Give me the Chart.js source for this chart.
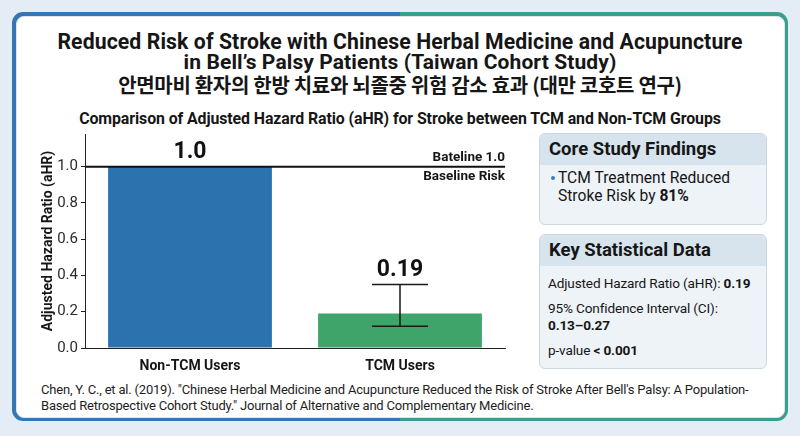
<!DOCTYPE html>
<html>
<head>
<meta charset="utf-8">
<script src="https://cdn.jsdelivr.net/npm/chart.js@4.4.1/dist/chart.umd.min.js"></script>
<style>
  html, body { margin: 0; padding: 0; }
  body {
    width: 800px; height: 436px; overflow: hidden;
    background: #e4edf6;
    font-family: Roboto, "Noto Sans", sans-serif;
    color: #161616;
    position: relative;
  }
  #frame {
    position: absolute; left: 12px; top: 12px; width: 776px; height: 409px;
    border-radius: 11px;
    background: linear-gradient(to right, #3676b2 50%, #3a9e8f 50%);
    box-sizing: border-box; padding: 3.5px;
  }
  #card {
    width: 100%; height: 100%; background: #fff; border-radius: 8px;
    box-sizing: border-box; border: 1.5px solid #dfe5eb;
  }
  .title {
    position: absolute; left: 0; width: 800px; text-align: center;
    font-weight: 700; white-space: nowrap; line-height: 1.2;
  }
  #t1 { top: 29px; font-size: 21.2px; letter-spacing: 0.1px; }
  #t2 { top: 50px; font-size: 21px; letter-spacing: 0.1px; }
  #t3 { top: 73px; font-size: 20px; font-family: "Noto Sans CJK KR", sans-serif; letter-spacing: -0.3px; }
  #t4 { top: 108.5px; font-size: 15.9px; letter-spacing: -0.1px; }
  #chartBox { position: absolute; left: 20px; top: 122px; width: 500px; height: 251px; }
  .panel {
    position: absolute; left: 539px; width: 228px;
    background: #eef3f8; border: 1px solid #c9d7e3; border-radius: 6px;
    box-sizing: border-box; overflow: hidden;
  }
  .panel h3 {
    margin: 0; background: #d7e4ee; font-size: 18.5px; font-weight: 700;
    padding: 0 9px; line-height: 31px; height: 31px; color: #161616;
  }
  #p1 { top: 133px; height: 92px; }
  #p2 { top: 234px; height: 135px; }
  .bullet { font-size: 15.6px; line-height: 18px; padding: 4px 10px 0 10px; position: relative; }
  .bullet .dot { position: absolute; left: 11px; top: 11px; width: 4px; height: 4px; border-radius: 2px; background: #3a7cc0; }
  .bullet .txt { padding-left: 8px; }
  .stat { font-size: 13.6px; line-height: 17px; padding: 0 8px; white-space: nowrap; letter-spacing: -0.15px; }
  #citation {
    position: absolute; left: 41px; top: 382px; width: 730px;
    font-size: 13px; line-height: 16px; color: #1e1e1e; letter-spacing: -0.2px;
  }
</style>
</head>
<body>
<div id="frame"><div id="card"></div></div>
<div class="title" id="t1">Reduced Risk of Stroke with Chinese Herbal Medicine and Acupuncture</div>
<div class="title" id="t2">in Bell’s Palsy Patients (Taiwan Cohort Study)</div>
<div class="title" id="t3">안면마비 환자의 한방 치료와 뇌졸중 위험 감소 효과 (대만 코호트 연구)</div>
<div class="title" id="t4">Comparison of Adjusted Hazard Ratio (aHR) for Stroke between TCM and Non-TCM Groups</div>

<div id="chartBox"><canvas id="chart" width="500" height="251"></canvas></div>

<div class="panel" id="p1">
  <h3>Core Study Findings</h3>
  <div class="bullet"><span class="dot"></span><div class="txt">TCM Treatment Reduced<br>Stroke Risk by <b>81%</b></div></div>
</div>
<div class="panel" id="p2">
  <h3>Key Statistical Data</h3>
  <div class="stat" style="margin-top:9px">Adjusted Hazard Ratio (aHR): <b>0.19</b></div>
  <div class="stat" style="margin-top:8px">95% Confidence Interval (CI):<br><b>0.13–0.27</b></div>
  <div class="stat" style="margin-top:8px">p-value <b>&lt; 0.001</b></div>
</div>

<div id="citation">Chen, Y. C., et al. (2019). "Chinese Herbal Medicine and Acupuncture Reduced the Risk of Stroke After Bell's Palsy: A Population-Based Retrospective Cohort Study." Journal of Alternative and Complementary Medicine.</div>

<script>
// chart data
const categories = ['Non-TCM Users', 'TCM Users'];
const hazardRatios = [1.0, 0.19];
const valueLabels = ['1.0', '0.19'];
const errorLow = [null, 0.12];
const errorHigh = [null, 0.35];
const barColors = ['#2b73ae', '#3ea46a'];
const baselineValue = 1.0;
const baselineTopLabel = 'Bateline 1.0';
const baselineBottomLabel = 'Baseline Risk';

const overlays = {
  id: 'overlays',
  afterDatasetsDraw(chart) {
    const ctx = chart.ctx;
    const x = chart.scales.x;
    const y = chart.scales.y;
    const meta = chart.getDatasetMeta(0);
    ctx.save();

    // baseline
    const by = y.getPixelForValue(baselineValue);
    ctx.strokeStyle = '#111';
    ctx.lineWidth = 2;
    ctx.beginPath();
    ctx.moveTo(x.left, by);
    ctx.lineTo(x.right, by);
    ctx.stroke();
    ctx.fillStyle = '#161616';
    ctx.font = 'bold 13.5px Roboto';
    ctx.textAlign = 'right';
    ctx.textBaseline = 'middle';
    ctx.fillText(baselineTopLabel, x.right, by - 9.5);
    ctx.fillText(baselineBottomLabel, x.right, by + 10);

    // error bars
    ctx.strokeStyle = '#1a1a1a';
    ctx.lineWidth = 1.5;
    meta.data.forEach((bar, i) => {
      if (errorLow[i] == null) return;
      const lo = y.getPixelForValue(errorLow[i]);
      const hi = y.getPixelForValue(errorHigh[i]);
      const cap = 28;
      ctx.beginPath();
      ctx.moveTo(bar.x, lo); ctx.lineTo(bar.x, hi);
      ctx.moveTo(bar.x - cap, hi); ctx.lineTo(bar.x + cap, hi);
      ctx.moveTo(bar.x - cap, lo); ctx.lineTo(bar.x + cap, lo);
      ctx.stroke();
    });

    // value labels
    ctx.fillStyle = '#111';
    ctx.font = 'bold 23px Roboto';
    ctx.textAlign = 'center';
    ctx.textBaseline = 'bottom';
    meta.data.forEach((bar, i) => {
      const top = errorHigh[i] != null ? y.getPixelForValue(errorHigh[i]) : bar.y;
      ctx.fillText(valueLabels[i], bar.x, top - 3);
    });
    ctx.restore();
  }
};

new Chart(document.getElementById('chart'), {
  type: 'bar',
  data: {
    labels: categories,
    datasets: [{
      data: hazardRatios,
      backgroundColor: barColors,
      borderWidth: 0,
      barPercentage: 0.78,
      categoryPercentage: 1.0
    }]
  },
  options: {
    responsive: false,
    animation: false,
    layout: { padding: { left: 17, right: 15, top: 5, bottom: 0 } },
    plugins: { legend: { display: false }, tooltip: { enabled: false } },
    scales: {
      x: {
        grid: { display: false },
        border: { color: '#222', width: 1 },
        ticks: { color: '#161616', font: { family: 'Roboto', size: 14, weight: 'bold' }, padding: 2 },
        afterFit(scale) { scale.height = 25; }
      },
      y: {
        min: 0,
        max: 1.18,
        grid: { drawOnChartArea: false, tickLength: 4, color: '#222' },
        border: { color: '#222', width: 1 },
        ticks: {
          stepSize: 0.2,
          color: '#2a2a2a',
          font: { family: 'Roboto', size: 15 },
          padding: 3,
          callback: v => v.toFixed(1)
        },
        afterBuildTicks(scale) {
          scale.ticks = scale.ticks.filter(t => Math.abs(t.value * 5 - Math.round(t.value * 5)) < 1e-6);
        },
        title: {
          display: true,
          text: 'Adjusted Hazard Ratio (aHR)',
          color: '#161616',
          font: { family: 'Roboto', size: 14, weight: 'bold' },
          padding: 3
        },
        afterFit(scale) { scale.width = 48; }
      }
    }
  },
  plugins: [overlays]
});
</script>
</body>
</html>
